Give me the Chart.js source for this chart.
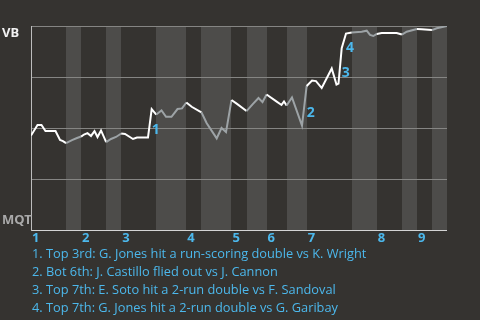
<!DOCTYPE html>
<html><head><meta charset="utf-8">
<script src="https://cdn.jsdelivr.net/npm/chart.js@4/dist/chart.umd.min.js"></script>
<style>html,body{margin:0;padding:0;background:#353330;}canvas{display:block}</style>
</head><body><canvas id="c" width="480" height="320"></canvas>
<script>
// Half-inning boundaries (in plate-appearance units) — top halves even, bottom halves odd
const halfInningBounds = [0,7,10,15,18,25,31,34,40,43,47,51,55,64,69,74,77,80,83];
const inningLabels = ['1','2','3','4','5','6','7','8','9'];
const teamTop = 'VB';
const teamBottom = 'MQT';

// Win probability for VB after each event
const eventX = [0,1.3,2.09,2.89,4.89,5.79,6.38,7,8.18,9.18,10,10.57,11.27,11.97,12.67,13.27,13.97,15,15.96,16.96,18,
  18.76,20.35,21.15,23.34,24.08,25,26.04,26.94,28.03,29.23,30.13,31,32.06,34,35.06,37.05,38.01,38.91,40,41.1,43,
  44.29,45.39,46.19,47,48.88,49.98,50.48,51,52.07,54.07,55,56.07,56.86,58,60,60.95,61.35,61.99,62.85,64,
  65.98,66.98,67.64,68.3,69,69.97,72.96,74,74.96,77,77.95,80,80.95,83];
const winProb = [0.463,0.515,0.515,0.485,0.485,0.441,0.436,0.426,0.441,0.451,0.458,0.468,0.475,0.461,0.485,0.456,0.488,0.431,0.446,0.456,0.473,
  0.471,0.446,0.453,0.453,0.593,0.566,0.586,0.555,0.555,0.593,0.596,0.625,0.604,0.577,0.523,0.449,0.5,0.48,0.637,0.618,0.583,
  0.618,0.647,0.627,0.664,0.632,0.613,0.63,0.61,0.65,0.512,0.706,0.733,0.73,0.696,0.792,0.713,0.718,0.891,0.963,0.968,
  0.972,0.977,0.956,0.951,0.961,0.966,0.966,0.958,0.972,0.985,0.984,0.98,0.989,1.0];

// Key events: index of the data point that ends the event
const eventIndex = [25, 52, 59, 60];
const eventLabels = ['1','2','3','4'];
const eventDescriptions = [
  '1. Top 3rd: G. Jones hit a run-scoring double vs K. Wright',
  '2. Bot 6th: J. Castillo flied out vs J. Cannon',
  '3. Top 7th: E. Soto hit a 2-run double vs F. Sandoval',
  '4. Top 7th: G. Jones hit a 2-run double vs G. Garibay'
];

const BG = '#353330', SHADE = '#4d4c4a', BLUE = '#4cb8ec';

function halfIndex(x){
  for (let k = 0; k < halfInningBounds.length - 1; k++) {
    if (x >= halfInningBounds[k] && x < halfInningBounds[k+1]) return k;
  }
  return halfInningBounds.length - 2;
}

const wpPlugin = {
  id: 'wp',
  beforeDraw(chart){
    const {ctx, chartArea:a, scales:{x}} = chart;
    ctx.save();
    ctx.fillStyle = BG;
    ctx.fillRect(0,0,chart.width,chart.height);
    ctx.fillStyle = SHADE;
    for (let k = 1; k < halfInningBounds.length - 1; k += 2) {
      const x0 = Math.round(x.getPixelForValue(halfInningBounds[k]));
      const x1 = Math.round(x.getPixelForValue(halfInningBounds[k+1]));
      ctx.fillRect(x0, a.top, x1 - x0, a.bottom - a.top);
    }
    ctx.restore();
  },
  afterDraw(chart){
    const {ctx, chartArea:a, scales:{x,y}} = chart;
    ctx.save();
    // inning labels
    ctx.fillStyle = BLUE;
    ctx.font = 'bold 13px "Noto Sans"';
    ctx.textAlign = 'left';
    ctx.textBaseline = 'middle';
    for (let i = 0; i < inningLabels.length; i++) {
      const px = x.getPixelForValue(halfInningBounds[i*2]);
      ctx.fillText(inningLabels[i], px + 1, a.bottom + 8);
    }
    // team labels
    ctx.font = 'bold 13px "Noto Sans"';
    ctx.fillStyle = '#f2f2f2';
    ctx.fillText(teamTop, 2, a.top + 7);
    ctx.fillStyle = '#a9a9a9';
    ctx.fillText(teamBottom, 2, a.bottom - 10);
    // event markers
    ctx.fillStyle = BLUE;
    ctx.font = 'bold 14px "Noto Sans"';
    eventIndex.forEach((idx, i) => {
      const ex = x.getPixelForValue(eventX[idx]);
      const y0 = y.getPixelForValue(winProb[idx-1]);
      const y1 = y.getPixelForValue(winProb[idx]);
      ctx.fillText(eventLabels[i], ex, (y0 + y1) / 2 + 7);
    });
    // descriptions
    ctx.font = '12.8px "Open Sans"';
    eventDescriptions.forEach((t, i) => {
      ctx.fillText(t, 32, a.bottom + 24.5 + i * 18);
    });
    ctx.restore();
  }
};

new Chart(document.getElementById('c'), {
  type: 'line',
  data: {
    datasets: [{
      data: eventX.map((v, i) => ({x: v, y: winProb[i]})),
      borderWidth: 2,
      borderColor: '#ffffff',
      pointRadius: 0,
      tension: 0,
      fill: false,
      segment: {
        borderColor: c => {
          const mid = (c.p0.parsed.x + c.p1.parsed.x) / 2;
          return halfIndex(mid) % 2 === 1 ? '#9da3a6' : '#ffffff';
        }
      }
    }]
  },
  options: {
    responsive: false,
    animation: false,
    events: [],
    layout: {padding: {left: 31, right: 33, top: 26, bottom: 90}},
    plugins: {legend: {display: false}, tooltip: {enabled: false}},
    scales: {
      x: {type: 'linear', min: 0, max: 83, display: false},
      y: {
        min: 0, max: 1,
        ticks: {display: false, stepSize: 0.25},
        grid: {
          drawTicks: false,
          color: c => c.tick.value === 0 ? '#d4d4d4' : '#858583',
          lineWidth: 1
        },
        border: {display: true, color: '#bdbdbd', width: 1}
      }
    }
  },
  plugins: [wpPlugin]
});
</script>
</body></html>
